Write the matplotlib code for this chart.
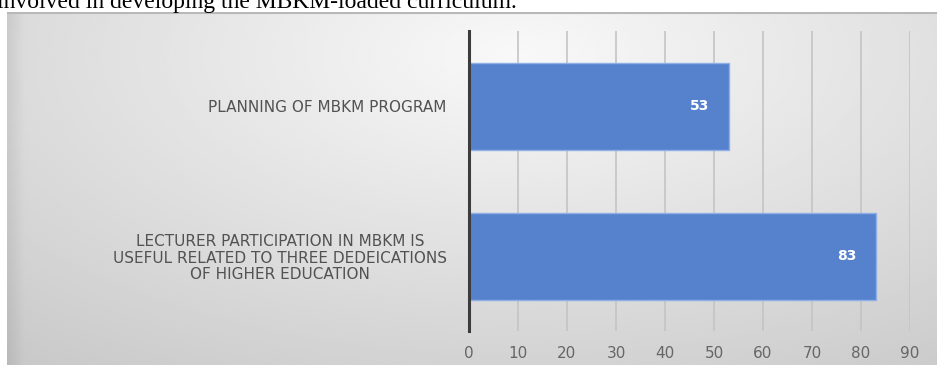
import numpy as np
import matplotlib
matplotlib.use('Agg')
import matplotlib.pyplot as plt

## survey items (top to bottom) and their scores
categories = ['PLANNING OF MBKM PROGRAM',
              'LECTURER PARTICIPATION IN MBKM IS\nUSEFUL RELATED TO THREE DEDEICATIONS\nOF HIGHER EDUCATION']
values = [53, 83]
xticks = [0, 10, 20, 30, 40, 50, 60, 70, 80, 90]
caption = 'involved in developing the MBKM-loaded curriculum.'

W, H = 939, 365
fig = plt.figure(figsize=(W/100, H/100), dpi=100)
fig.patch.set_facecolor('white')

## line of body text running above the chart
fig.text(-3/W, 1 - 8/H, caption, family='Liberation Serif', fontsize=17,
         color='black', ha='left', va='baseline')

## chart frame with soft grey radial shading
bg = fig.add_axes([7/W, 0, (937-7)/W, (H-12)/H])
yy, xx = np.mgrid[0:1:300j, 0:1:600j]
r = np.sqrt(((xx - 0.55)/0.75)**2 + ((yy - 0.12)/0.95)**2)
shade = np.clip(0.975 - 0.16*r, 0.78, 0.975)
shade[:, :12] -= np.linspace(0.06, 0.0, 12)
bg.imshow(shade, cmap='gray', vmin=0, vmax=1, aspect='auto',
          extent=[0, 1, 0, 1], origin='upper', interpolation='bicubic')
bg.plot([0, 1], [0.997, 0.997], color='#b8b8b8', lw=1.5)
bg.set_xlim(0, 1)
bg.set_ylim(0, 1)
bg.axis('off')

## bar chart
ax = fig.add_axes([469/W, 1 - 331/H, (910-469)/W, 300/H])
ax.patch.set_alpha(0)
ypos = np.arange(len(categories))
ax.barh(ypos, values, height=0.58, color='#5581cd', edgecolor='#8fb0e6',
        linewidth=1.0, zorder=3)
ax.set_ylim(-0.5, len(categories) - 0.5)
ax.invert_yaxis()
ax.set_xlim(0, 90)
ax.set_xticks(xticks)
ax.set_xticklabels([str(t) for t in xticks])
ax.set_yticks(ypos)
ax.set_yticklabels(categories)
for lbl in ax.get_yticklabels():
    lbl.set_multialignment('center')
    lbl.set_linespacing(1.1)

ax.tick_params(axis='x', length=0, pad=11, labelsize=11, labelcolor='#666666')
ax.tick_params(axis='y', length=0, pad=16, labelsize=11, labelcolor='#525252')
ax.grid(axis='x', color='#c4c4c4', linewidth=1.2, zorder=0)
for sp in ['top', 'right', 'bottom']:
    ax.spines[sp].set_visible(False)
ax.spines['left'].set_color('#3c3c3c')
ax.spines['left'].set_linewidth(2.2)
ax.spines['left'].set_zorder(4)

## value labels inside the bar ends
for y, v in zip(ypos, values):
    ax.annotate(str(v), (v, y), xytext=(-14, 0), textcoords='offset points',
                ha='right', va='center', color='white', fontsize=10,
                fontweight='bold', zorder=5)

fig.savefig('out.png', dpi=100)
